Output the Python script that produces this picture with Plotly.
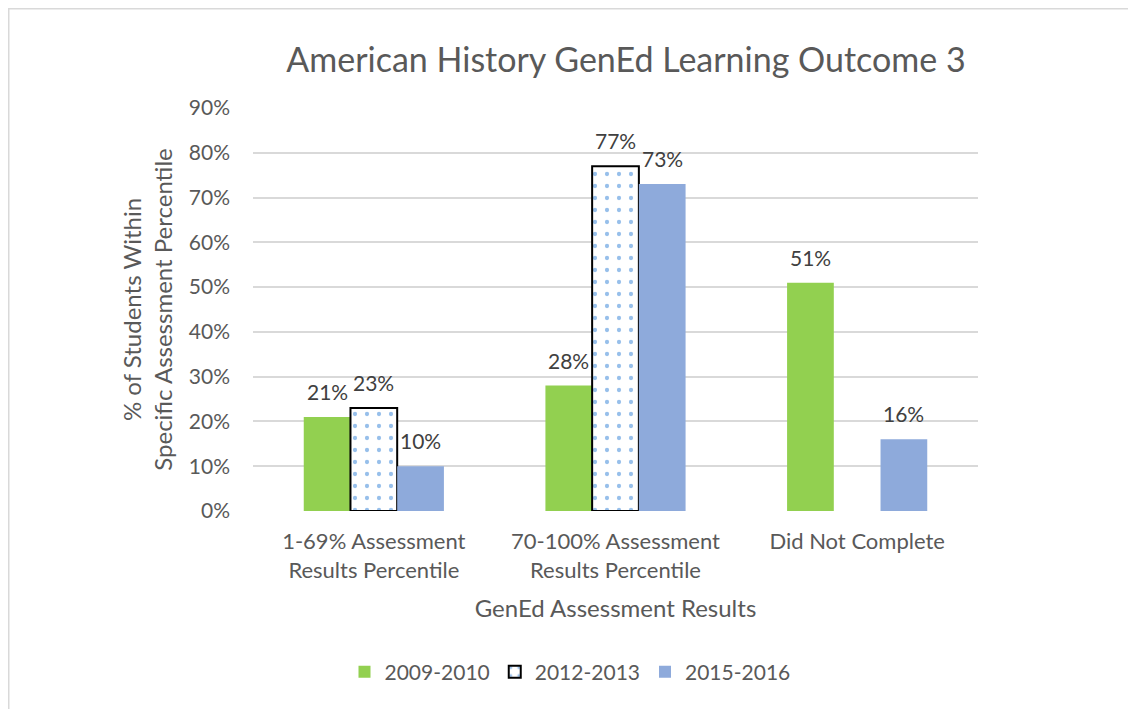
import plotly.graph_objects as go

categories = ["1-69% Assessment<br>Results Percentile", "70-100% Assessment<br>Results Percentile", "Did Not Complete"]
series_names = ["2009-2010", "2012-2013", "2015-2016"]
v2009 = [21, 28, 51]
v2012 = [23, 77, None]
v2015 = [10, 73, 16]
y_ticks = [0, 10, 20, 30, 40, 50, 60, 70, 80, 90]

FONT = "Lato"
TXT = "#595959"
LBL = "#404040"

W, H = 1128, 701
ML, MT, PW, PH = 245, 100, 725, 403

fig = go.Figure()
fig.add_trace(go.Bar(
    name=series_names[0], x=categories, y=v2009,
    marker=dict(color="#92d050", line=dict(width=0)),
))
fig.add_trace(go.Bar(
    name=series_names[1], x=categories, y=v2012,
    marker=dict(color="white", line=dict(color="black", width=2),
                pattern=dict(shape=".", fgcolor="#2f7fd6", bgcolor="white",
                             size=12, solidity=0.1, fillmode="overlay")),
))
fig.add_trace(go.Bar(
    name=series_names[2], x=categories, y=v2015,
    marker=dict(color="#8eaadb", line=dict(width=0)),
))

bargap = 0.42
barw = PW / len(categories) * (1 - bargap) / 3
annotations = []
for j, vals in enumerate([v2009, v2012, v2015]):
    for i, v in enumerate(vals):
        if v is None:
            continue
        annotations.append(dict(
            x=categories[i], y=v, xref="x", yref="y", text=f"{v}%",
            showarrow=False, xanchor="center", yanchor="bottom",
            xshift=(j - 1) * barw, yshift=11,
            font=dict(size=21, color=LBL, family=FONT),
        ))

fig.update_layout(
    width=W, height=H,
    paper_bgcolor="white", plot_bgcolor="white",
    font=dict(family=FONT, color=TXT, size=21),
    margin=dict(l=ML, r=W - ML - PW, t=MT, b=H - MT - PH),
    barmode="group", bargap=bargap, bargroupgap=0,
    title=dict(text="American History GenEd Learning Outcome 3",
               x=618 / W, xanchor="center",
               y=1 - 52 / H, yanchor="middle",
               font=dict(size=34, color=TXT, family=FONT)),
    xaxis=dict(
        title=dict(text="GenEd Assessment Results", font=dict(size=24, color=TXT), standoff=18),
        tickfont=dict(size=22, color=TXT), showgrid=False, showline=False, ticks="",
        ticklabelstandoff=15,
    ),
    yaxis=dict(
        title=dict(text="% of Students Within<br>Specific Assessment Percentile",
                   font=dict(size=24, color=TXT), standoff=9),
        range=[0, 90], tickvals=y_ticks, ticktext=[f"{t}%" for t in y_ticks],
        tickfont=dict(size=21, color=TXT),
        showgrid=True, gridcolor="#d9d9d9", gridwidth=1.5,
        zeroline=False, showline=False, ticks="", ticklabelstandoff=22,
    ),
    legend=dict(orientation="h", x=(570 - ML - 8) / PW, xanchor="center",
                y=-(664 - MT - PH) / PH, yanchor="middle",
                font=dict(size=21, color=TXT), traceorder="normal"),
    annotations=annotations,
    shapes=[dict(type="rect", xref="paper", yref="paper",
                 x0=(0.75 - ML) / PW, x1=(W + 40 - ML) / PW,
                 y0=-1.0, y1=(MT + PH - 0.75) / PH,
                 line=dict(color="#d9d9d9", width=1.5), layer="below")],
)

fig.write_html("out.html")
